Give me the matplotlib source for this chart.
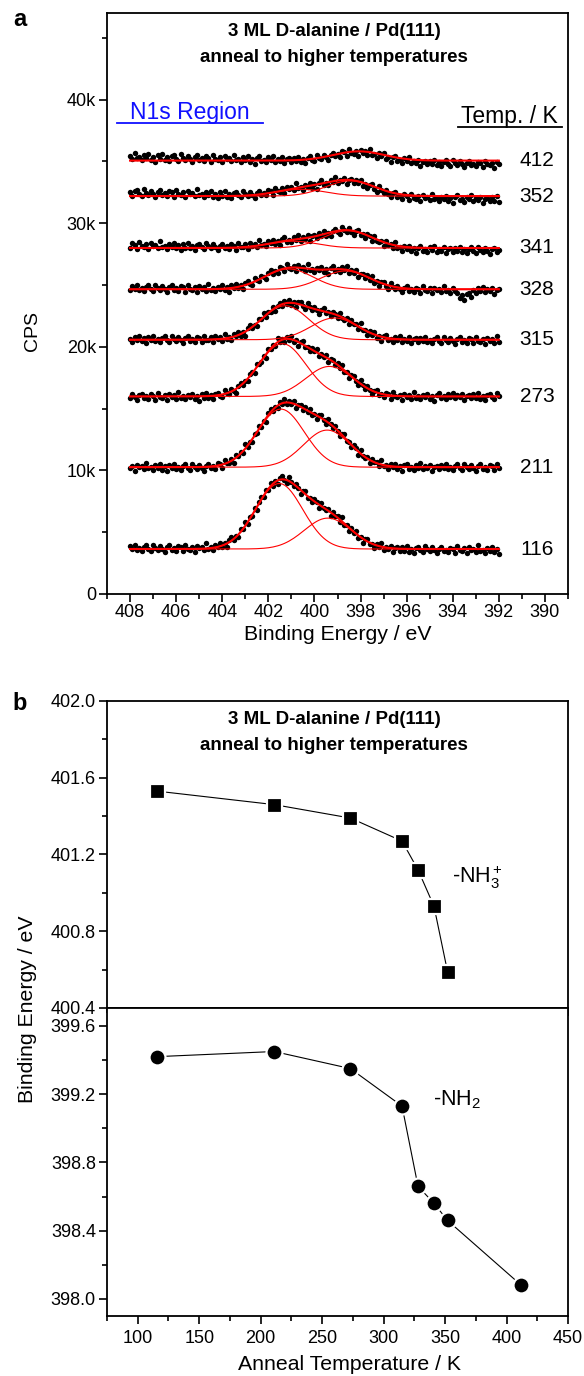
import numpy as np
import matplotlib
matplotlib.use("Agg")
import matplotlib.pyplot as plt
from matplotlib.ticker import MultipleLocator, FuncFormatter, NullFormatter
from matplotlib.lines import Line2D
from matplotlib.transforms import blended_transform_factory

plt.rcParams['font.family'] = ['Liberation Sans', 'DejaVu Sans']
plt.rcParams['mathtext.fontset'] = 'custom'
plt.rcParams['mathtext.rm'] = 'Liberation Sans'
plt.rcParams['mathtext.it'] = 'Liberation Sans:italic'
plt.rcParams['mathtext.bf'] = 'Liberation Sans:bold'

# ---------------- data ----------------
temps = [116, 211, 273, 315, 328, 341, 352, 412]
baseline = [3640, 10260, 15980, 20570, 24650, 27990, 32190, 35060]
# -NH3+ component (binding energy / eV, amplitude / CPS)
nh3_be = [401.53, 401.46, 401.39, 401.27, 401.12, 400.93, 400.59]
nh3_amp = [5300, 4700, 4270, 2750, 1640, 550, 550]
# -NH2 component
nh2_be = [399.42, 399.45, 399.35, 399.13, 398.66, 398.56, 398.46, 398.08]
nh2_amp = [2500, 3000, 2430, 1760, 1480, 1400, 1230, 750]
fwhm = [2.4, 2.4, 2.4, 2.4, 2.5, 2.5, 2.5, 2.6]
# background tilt of the measured points relative to the flat fit baseline (CPS)
tilt = [80, 0, 0, 60, 100, 200, 280, 300]
noise_offset = [0, 17, 31, 8, 44, 23, 39, 12]
# hand-typed scatter of the measured points about the fit (CPS)
noise = [165, -105, 250, -175, 45, -265, 120, 220, -75, -235, 290, 30, -130, 190,
         -45, -310, 90, 235, -120, 15, -205, 175, 75, -250, 275, -30, -100, 130,
         -275, 205, -15, 100, -175, 360, -90, 30, -235, 145, -55, 235, -190, 55,
         -335, 130, 265, -120, 0, -220, 175, -30, 310, -165, 90, -75, 205, -275,
         45, 130, -145]
# local feature: dip in the 328 K spectrum
dip_temp, dip_range, dip_depth = 328, (393.9, 393.1), -450

be_start, be_end, n_pts = 408.0, 392.0, 161

W, H = 584, 1376
fig = plt.figure(figsize=(W / 100, H / 100), dpi=100)

def fx(px):
    return px / W

def fy(py):
    return 1 - py / H

L, R = 107, 568
TICKFS = 13

def style_axes(ax):
    for s in ax.spines.values():
        s.set_linewidth(1.3)
    ax.tick_params(which='major', direction='out', length=6, width=1.2,
                   labelsize=TICKFS, pad=2)
    ax.tick_params(which='minor', direction='out', length=3.5, width=1.2)

# ---------------- panel a ----------------
axa = fig.add_axes([fx(L), fy(594), fx(R - L), (594 - 13) / H])
style_axes(axa)
axa.tick_params(axis='x', pad=1)
be = np.linspace(be_start, be_end, n_pts)
nz = np.array(noise, dtype=float)
for i, T in enumerate(temps):
    s = fwhm[i] / 2.3548
    base = baseline[i]
    c2 = nh2_amp[i] * np.exp(-(be - nh2_be[i]) ** 2 / (2 * s ** 2))
    if i < len(nh3_be):
        c1 = nh3_amp[i] * np.exp(-(be - nh3_be[i]) ** 2 / (2 * s ** 2))
    else:
        c1 = np.zeros_like(be)
    env = base + c1 + c2
    pts = env + np.roll(np.resize(nz, n_pts), noise_offset[i]) \
        + tilt[i] * (be - 400.0) / 8.0
    if T == dip_temp:
        m = (be < dip_range[0]) & (be > dip_range[1])
        pts[m] += dip_depth
    axa.plot(be, pts, 'o', ms=3.9, color='black', mec='black', mew=0, zorder=2)
    if i < len(nh3_be):
        axa.plot(be, base + c1, color='red', lw=0.8, zorder=3)
        axa.plot(be, base + c2, color='red', lw=0.8, zorder=3)
    axa.plot(be, env, color='red', lw=1.5, zorder=4)
    tr = blended_transform_factory(axa.transAxes, axa.transData)
    axa.text((537 - L) / (R - L), base, str(T), transform=tr, ha='center',
             va='center', fontsize=15)

axa.set_xlim(409, 389)
axa.set_ylim(0, 47000)
axa.xaxis.set_major_locator(MultipleLocator(2))
axa.xaxis.set_minor_locator(MultipleLocator(1))
axa.yaxis.set_major_locator(MultipleLocator(10000))
axa.yaxis.set_minor_locator(MultipleLocator(5000))
axa.yaxis.set_major_formatter(FuncFormatter(lambda v, p: '0' if v == 0 else f'{int(v/1000)}k'))
axa.xaxis.set_major_formatter(FuncFormatter(lambda v, p: f'{int(round(v))}'))

fig.text(fx(334), fy(31), '3 ML D-alanine / Pd(111)', ha='center', va='center',
         fontsize=13.5, fontweight='bold')
fig.text(fx(334), fy(57), 'anneal to higher temperatures', ha='center', va='center',
         fontsize=13.5, fontweight='bold')
fig.text(fx(190), fy(112), 'N1s Region', ha='center', va='center', fontsize=16.5,
         color='#1010ff')
fig.add_artist(Line2D([fx(117), fx(263)], [fy(123), fy(123)], color='#1010ff', lw=1.3))
fig.text(fx(509), fy(116), 'Temp. / K', ha='center', va='center', fontsize=16.5)
fig.add_artist(Line2D([fx(458), fx(562)], [fy(127), fy(127)], color='black', lw=1.3))
fig.text(fx(32), fy(331), 'CPS', ha='center', va='center', rotation=90, fontsize=14)
fig.text(fx(338), fy(635), 'Binding Energy / eV', ha='center', va='center', fontsize=15.3)
fig.text(fx(20), fy(19), 'a', ha='center', va='center', fontsize=17, fontweight='bold')
fig.text(fx(20), fy(703), 'b', ha='center', va='center', fontsize=17, fontweight='bold')

# ---------------- panel b ----------------
axu = fig.add_axes([fx(L), fy(1008), fx(R - L), (1008 - 701) / H])
axl = fig.add_axes([fx(L), fy(1316), fx(R - L), (1316 - 1008) / H])
for ax in (axu, axl):
    style_axes(ax)
    ax.set_xlim(75, 450)
    ax.xaxis.set_major_locator(MultipleLocator(50))
    ax.xaxis.set_minor_locator(MultipleLocator(25))
    ax.yaxis.set_major_locator(MultipleLocator(0.4))
    ax.yaxis.set_minor_locator(MultipleLocator(0.2))
    ax.yaxis.set_major_formatter(FuncFormatter(lambda v, p: f'{v:.1f}'))
axl.tick_params(axis='x', pad=4)
axu.set_ylim(400.4, 402.0)
axl.set_ylim(397.9, 399.705)
axu.xaxis.set_major_formatter(NullFormatter())

mk = dict(color='black', lw=0.8, mfc='black', mec='white', mew=1.6)
axu.plot(temps[:len(nh3_be)], nh3_be, marker='s', ms=10.8, **mk)
axl.plot(temps, nh2_be, marker='o', ms=11.5, **mk)

axu.text(356, 401.08, r'-NH$_3^+$', fontsize=15.5, ha='left', va='center')
axl.text(340.3, 399.17, r'-NH$_2$', fontsize=15.5, ha='left', va='center')

fig.text(fx(334), fy(719), '3 ML D-alanine / Pd(111)', ha='center', va='center',
         fontsize=13.5, fontweight='bold')
fig.text(fx(334), fy(745), 'anneal to higher temperatures', ha='center', va='center',
         fontsize=13.5, fontweight='bold')
fig.text(fx(28), fy(1009), 'Binding Energy / eV', ha='center', va='center',
         rotation=90, fontsize=15.3)
fig.text(fx(349), fy(1364), 'Anneal Temperature / K', ha='center', va='center',
         fontsize=15.3)

fig.savefig('out.png', dpi=100)
